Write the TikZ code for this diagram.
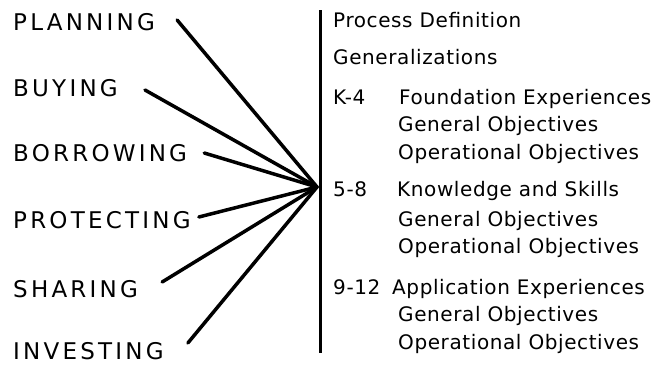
\documentclass[tikz,border=0pt]{standalone}
\usepackage{fontspec}
\setmainfont{DejaVu Sans}
\newfontfamily\topicfont[LetterSpace=14]{DejaVu Sans}
\newfontfamily\entryfont[LetterSpace=3]{DejaVu Sans}
\begin{document}
\begin{tikzpicture}[x=1pt,y=-1pt,
    topic/.style={anchor=base west,inner sep=0pt,font=\topicfont\fontsize{23}{27}\selectfont},
    entry/.style={anchor=base west,inner sep=0pt,font=\entryfont\fontsize{20}{24}\selectfont},
    spoke/.style={draw=black,line width=3.5pt,line cap=round}]
    \useasboundingbox (0,0) rectangle (660,364);
    %%% Topics on the left
    \node[topic] (planning)   at (13,30)  {PLANNING};
    \node[topic] (buying)     at (13,96)  {BUYING};
    \node[topic] (borrowing)  at (13,161) {BORROWING};
    \node[topic] (protecting) at (13,228) {PROTECTING};
    \node[topic] (sharing)    at (13,297) {SHARING};
    \node[topic] (investing)  at (13,359) {INVESTING};
    %%% Vertical bar and the point where the spokes meet
    \coordinate (hub)    at (317,187);
    \coordinate (bartop) at (320,10);
    \coordinate (barend) at (320,353);
    \draw[draw=black,line width=3pt] (bartop) -- (barend);
    %%% Heavy spokes from each topic
    \draw[spoke] ([xshift=22pt,yshift=10pt]planning.base east) -- (hub);
    \draw[spoke] ([xshift=27pt,yshift=6pt]buying.base east) -- (hub);
    \draw[spoke] ([xshift=17pt,yshift=8pt]borrowing.base east) -- (hub);
    \draw[spoke] ([xshift=8pt,yshift=11pt]protecting.base east) -- (hub);
    \draw[spoke] ([xshift=24pt,yshift=15pt]sharing.base east) -- (hub);
    \draw[spoke] ([xshift=24pt,yshift=16pt]investing.base east) -- (hub);
    %%% Entries to the right of the bar
    \node[entry] (procdef) at (333,27)  {Process Definition};
    \node[entry] (general) at (333,64)  {Generalizations};
    \node[entry] (gradeA)  at (333,104) {K-4};
    \node[entry] (stageA)  at (399,104) {Foundation Experiences};
    \node[entry] (genA)    at (398,131) {General Objectives};
    \node[entry] (opA)     at (398,159) {Operational Objectives};
    \node[entry] (gradeB)  at (333,196) {5-8};
    \node[entry] (stageB)  at (397,196) {Knowledge and Skills};
    \node[entry] (genB)    at (398,226) {General Objectives};
    \node[entry] (opB)     at (398,253) {Operational Objectives};
    \node[entry] (gradeC)  at (333,294) {9-12};
    \node[entry] (stageC)  at (392,294) {Application Experiences};
    \node[entry] (genC)    at (398,321) {General Objectives};
    \node[entry] (opC)     at (398,349) {Operational Objectives};
\end{tikzpicture}
\end{document}
